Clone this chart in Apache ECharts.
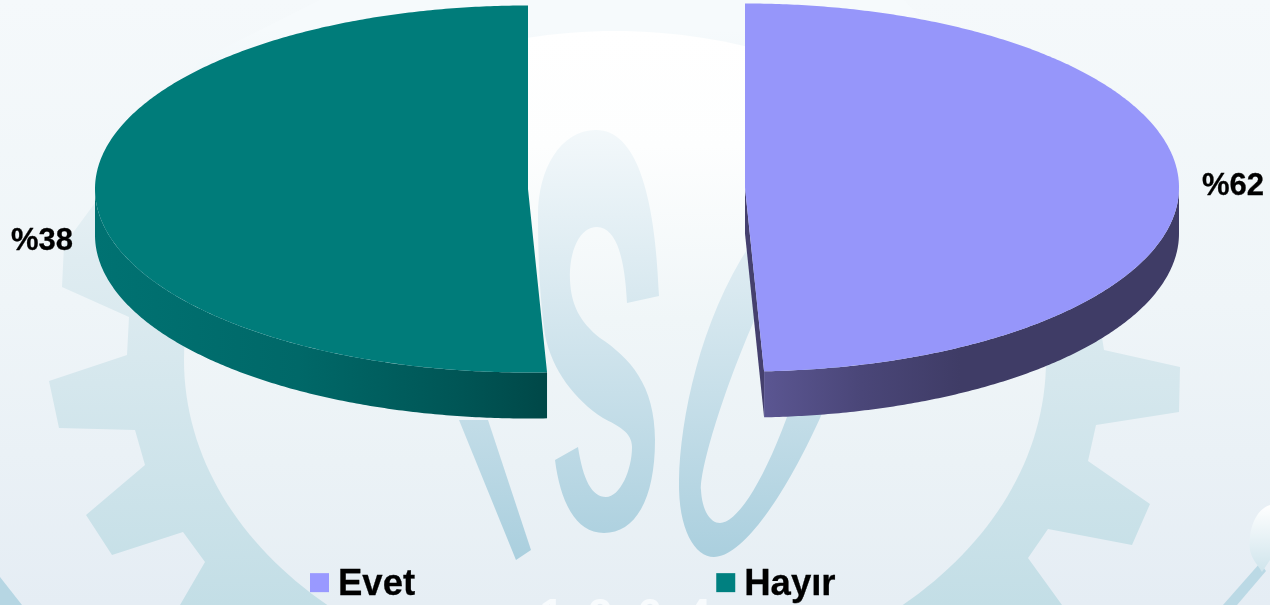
<!DOCTYPE html>
<html>
<head>
<meta charset="utf-8">
<style>html,body{margin:0;padding:0;background:#eef4f7;overflow:hidden}#chart{width:1270px;height:605px}</style>
<script src="https://cdn.jsdelivr.net/npm/echarts@6/dist/echarts.min.js"></script>
</head>
<body>
<div id="chart"></div>
<script>
// Data
const categories = ['Evet', 'Hayır'];
const sliceLabels = ['%62', '%38'];
// share of the ellipse each slice covers as drawn in the picture
const drawnShares = [49.3, 50.7];
const legendColors = ['#9999FF', '#008080'];

const F = '"Liberation Sans", Arial, sans-serif';
const globalV = (y1, y2, stops) => ({type: 'linear', x: 0, y: y1, x2: 0, y2: y2, global: true,
  colorStops: stops.map(s => ({offset: s[0], color: s[1]}))});
const globalH = (x1, x2, stops) => ({type: 'linear', x: x1, y: 0, x2: x2, y2: 0, global: true,
  colorStops: stops.map(s => ({offset: s[0], color: s[1]}))});

const looks = [
  {cx: 745, cy: 187.5, rx: 434, ry: 184, h: 46, top: '#9696FA', cut: '#45406E',
   wallFrom: 90, wallTo: null,
   wall: globalH(763, 960, [[0, '#5B5692'], [0.5, '#4A4678'], [1, '#3F3C66']]),
   label: {x: 1233, y: 186.5}},
  {cx: 528, cy: 189, rx: 433, ry: 183.5, h: 46, top: '#007C7A', cut: null,
   wallFrom: null, wallTo: 270,
   wall: globalH(95, 546, [[0, '#007272'], [0.45, '#006868'], [0.8, '#005656'], [1, '#004848']]),
   label: {x: 42, y: 241.5}}
];

function pt(l, deg, dy) {
  const a = deg * Math.PI / 180;
  return [l.cx + l.rx * Math.sin(a), l.cy - l.ry * Math.cos(a) + (dy || 0)];
}
function arc(l, from, to, dy) {
  const out = [], n = Math.max(2, Math.ceil(Math.abs(to - from) * 2));
  for (let i = 0; i <= n; i++) out.push(pt(l, from + (to - from) * i / n, dy));
  return out;
}

function renderSlice(params, api) {
  const idx = params.seriesIndex - 1;
  const l = looks[idx];
  let start = 0;
  for (let i = 0; i < idx; i++) start += drawnShares[i] * 3.6;
  const sweep = api.value(0) * 3.6;
  const end = start + sweep;
  const wf = l.wallFrom === null ? start : l.wallFrom;
  const wt = l.wallTo === null ? end : l.wallTo;
  const children = [];
  const c = [l.cx, l.cy];
  if (l.cut) {
    const e = pt(l, end);
    children.push({type: 'polygon', shape: {points: [c, e, [e[0], e[1] + l.h], [c[0], c[1] + l.h]]},
      style: {fill: l.cut}});
  }
  children.push({type: 'polygon',
    shape: {points: arc(l, wf, wt, 0).concat(arc(l, wt, wf, l.h))}, style: {fill: l.wall}});
  children.push({type: 'polygon', shape: {points: [c].concat(arc(l, start, end, 0))},
    style: {fill: l.top}});
  children.push({type: 'text', style: {text: sliceLabels[idx], x: l.label.x, y: l.label.y,
    align: 'center', verticalAlign: 'middle', fontSize: 31, fontWeight: 'bold', fontFamily: F, fill: '#000',
    stroke: '#000', lineWidth: 0.3}});
  return {type: 'group', children: children};
}

const gearPts = [[330,-5],[200,60],[64,245],[62,287],[129,317],[127,355],[49,381],[59,428],[135,430],[145,465],
  [86,515],[112,555],[183,532],[205,562],[180,605],[180,620],[1062,620],[1062,605],[1028,558],[1048,529],
  [1132,545],[1150,504],[1088,461],[1096,425],[1179,412],[1180,367],[1104,350],[1080,200],[900,-5]];
const letterFill = globalV(110, 560, [[0,'#F6FAFC'],[0.4,'#D9E9F0'],[1,'#AACFDE']]);

function renderWatermark() {
  const p = (d, fill) => ({type: 'path', shape: {pathData: d}, style: {fill: fill}});
  return {type: 'group', children: [
    {type: 'rect', shape: {x: 0, y: 0, width: 1270, height: 605},
     style: {fill: globalV(0, 605, [[0,'#F5F9FB'],[0.5,'#EFF5F8'],[1,'#E5EDF4']])}},
    {type: 'polygon', shape: {points: gearPts},
     style: {fill: globalV(30, 605, [[0,'#F6FAFC'],[0.4,'#DFECF1'],[1,'#C3DEE6']])}},
    {type: 'ellipse', shape: {cx: 615, cy: 360, rx: 431, ry: 329},
     style: {fill: globalV(31, 605, [[0,'#FFFFFF'],[0.2,'#FDFEFE'],[0.5,'#F0F6F8'],[1,'#E6EEF4']])}},
    {type: 'polygon', shape: {points: [[459,420],[488,420],[531,550],[516,560]]}, style: {fill: letterFill}},
    p('M627 303 C625 262 618 228 597 227 C580 227 569 250 570 280 C571 305 580 322 600 338 C630 358 655 385 655 440 ' +
      'C655 500 635 533 604 533 C575 533 560 500 555 460 L578 447 C583 480 592 497 606 497 C620 497 632 470 632 447 ' +
      'C632 432 618 426 603 418 C575 400 552 370 545 335 C540 300 538 260 538 215 C538 170 560 130 596 130 C635 130 655 190 659 296 Z', letterFill),
    p('M714 557 C695 557 678 530 679 480 C680 420 700 320 750 245 C790 180 860 150 870 250 C870 330 770 557 714 557 Z ' +
      'M720 523 C735 523 760 490 787 417 C810 350 830 280 820 225 C800 200 770 270 753 323 C720 400 700 470 701 490 C702 510 710 523 720 523 Z', letterFill),
    {type: 'polygon', shape: {points: [[0,577],[22,605],[0,605]]}, style: {fill: '#B6D6E3'}},
    {type: 'polygon', shape: {points: [[1260,563],[1223,605],[1237,605],[1266,571]]}, style: {fill: '#BBD9E5'}},
    p('M1270 505 C1255 510 1248 530 1250 550 C1252 560 1258 565 1262 572 L1270 560 Z',
      globalV(505, 572, [[0,'#FFFFFF'],[1,'#CFE4EC']])),
    {type: 'text', style: {text: '1  9  6  4', x: 625, y: 596, align: 'center', verticalAlign: 'top',
      fontSize: 44, fontWeight: 'bold', fontFamily: F, fill: '#F8FBFD'}}
  ]};
}

const chart = echarts.init(document.getElementById('chart'));
chart.setOption({
  animation: false,
  legend: {
    left: 310, top: 566, padding: 0, itemWidth: 19, itemHeight: 23, itemGap: 301,
    icon: 'path://M0 0L19 0L19 19L0 19Z M19 23L19 23',
    data: categories, selectedMode: false,
    textStyle: {fontSize: 36.5, fontWeight: 'bold', fontFamily: F, color: '#000', padding: [0, 0, 0, 4],
      textBorderColor: '#000', textBorderWidth: 0.3}
  },
  series: [{type: 'custom', name: 'filigran', coordinateSystem: 'none', renderItem: renderWatermark,
    silent: true, z: 0, data: [[0]]}].concat(categories.map((name, i) => ({
    type: 'custom', name: name, coordinateSystem: 'none', renderItem: renderSlice,
    itemStyle: {color: legendColors[i]}, silent: true, clip: false, z: 2,
    data: [[drawnShares[i]]]
  })))
});
</script>
</body>
</html>
